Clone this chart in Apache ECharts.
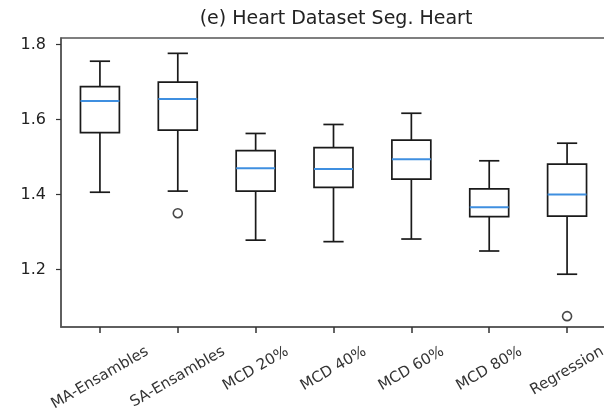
<!DOCTYPE html>
<html>
<head>
<meta charset="utf-8">
<script src="https://cdn.jsdelivr.net/npm/echarts@6/dist/echarts.min.js"></script>
<style>
  html, body { margin: 0; padding: 0; background: #fff; }
  #chart { width: 604px; height: 410px; }
</style>
</head>
<body>
<div id="chart"></div>
<script>
const categories = ['MA-Ensambles', 'SA-Ensambles', 'MCD 20%', 'MCD 40%', 'MCD 60%', 'MCD 80%', 'Regression'];
const whiskerLow = [1.406, 1.409, 1.278, 1.274, 1.281, 1.249, 1.187];
const q1 = [1.565, 1.572, 1.409, 1.419, 1.441, 1.341, 1.342];
const medians = [1.650, 1.655, 1.470, 1.468, 1.494, 1.366, 1.400];
const q3 = [1.688, 1.700, 1.517, 1.525, 1.545, 1.415, 1.481];
const whiskerHigh = [1.756, 1.777, 1.563, 1.587, 1.617, 1.490, 1.537];
const outliers = [[1, 1.350], [6, 1.075]];
const yTicks = [1.2, 1.4, 1.6, 1.8];

const FONT = '"DejaVu Sans", sans-serif';
const X_LABEL_SIZE = 15;
const LABEL_TOP = 17; // top of the rotated label box, px below the axis line

// matplotlib centres the rotated label box under its tick and hangs it from a
// fixed top. echarts spins each label round its anchor, so every label gets its
// own padding to land there (top-anchored text, 30 deg).
function measure(text, size) {
  const ctx = document.createElement('canvas').getContext('2d');
  ctx.font = `${size}px ${FONT}`;
  return ctx.measureText(text).width;
}

const h = X_LABEL_SIZE;
const widths = categories.map((name) => measure(name, X_LABEL_SIZE));
const labelMargin = LABEL_TOP + 0.25 * Math.min(...widths) - 0.144 * h;
const xAxisData = categories.map((name, i) => {
  const dy = (LABEL_TOP + 0.25 * widths[i] + 0.433 * h - labelMargin) / 1.1547;
  return {
    value: name,
    // a per-item textStyle hides axisLabel.align, so it is set here
    textStyle: {
      align: 'center',
      verticalAlign: 'top',
      padding: [Math.max(0, dy - h / 2), 1.1547 * dy, 0, 0]
    }
  };
});

const boxData = categories.map((_, i) => [i, whiskerLow[i], q1[i], medians[i], q3[i], whiskerHigh[i]]);

function renderBox(params, api) {
  const idx = api.value(0);
  const band = api.size([1, 0])[0];
  const half = band * 0.25;
  const cap = band * 0.13;
  const pLow = api.coord([idx, api.value(1)]);
  const pQ1 = api.coord([idx, api.value(2)]);
  const pMed = api.coord([idx, api.value(3)]);
  const pQ3 = api.coord([idx, api.value(4)]);
  const pHigh = api.coord([idx, api.value(5)]);
  const x = pMed[0];
  const dark = { stroke: '#1a1a1a', lineWidth: 1.7, fill: null };
  return {
    type: 'group',
    children: [
      { type: 'line', shape: { x1: x, y1: pQ3[1], x2: x, y2: pHigh[1] }, style: dark },
      { type: 'line', shape: { x1: x, y1: pQ1[1], x2: x, y2: pLow[1] }, style: dark },
      { type: 'line', shape: { x1: x - cap, y1: pHigh[1], x2: x + cap, y2: pHigh[1] }, style: dark },
      { type: 'line', shape: { x1: x - cap, y1: pLow[1], x2: x + cap, y2: pLow[1] }, style: dark },
      {
        type: 'rect',
        shape: { x: x - half, y: pQ3[1], width: half * 2, height: pQ1[1] - pQ3[1] },
        style: { stroke: '#1a1a1a', lineWidth: 1.7, fill: '#fff' }
      },
      {
        type: 'line',
        shape: { x1: x - half, y1: pMed[1], x2: x + half, y2: pMed[1] },
        style: { stroke: '#3f8fe0', lineWidth: 2 }
      }
    ]
  };
}

const chart = echarts.init(document.getElementById('chart'), null, { renderer: 'canvas' });

chart.setOption({
  animation: false,
  title: {
    text: '(e) Heart Dataset Seg. Heart',
    left: 336,
    top: 10,
    padding: 0,
    textAlign: 'center',
    textStyle: { fontFamily: FONT, fontSize: 19, fontWeight: 'normal', color: '#222' }
  },
  grid: {
    left: 61,
    top: 38,
    width: 545,
    bottom: 83,
    containLabel: false,
    outerBoundsMode: 'none',
    show: true,
    borderColor: '#555',
    borderWidth: 1.5,
    backgroundColor: 'transparent'
  },
  xAxis: {
    type: 'category',
    data: xAxisData,
    boundaryGap: true,
    axisLine: { show: true, lineStyle: { color: '#555', width: 1.5 } },
    axisTick: { show: true, alignWithLabel: true, length: 6, lineStyle: { color: '#333', width: 1.5 } },
    axisLabel: {
      interval: 0,
      rotate: 30,
      margin: labelMargin,
      fontFamily: FONT,
      fontSize: X_LABEL_SIZE,
      color: '#333'
    },
    splitLine: { show: false }
  },
  yAxis: {
    type: 'value',
    min: 1.046,
    max: 1.818,
    axisLine: { show: true, lineStyle: { color: '#555', width: 1.5 } },
    axisTick: { show: true, length: 5, customValues: yTicks, lineStyle: { color: '#333', width: 1.2 } },
    axisLabel: {
      customValues: yTicks,
      formatter: (value) => Number(value).toFixed(1),
      margin: 15,
      fontFamily: FONT,
      fontSize: 16,
      color: '#222'
    },
    splitLine: { show: false }
  },
  series: [
    {
      name: 'boxes',
      type: 'custom',
      renderItem: renderBox,
      data: boxData,
      encode: { x: 0, y: [1, 2, 3, 4, 5] }
    },
    {
      name: 'outliers',
      type: 'scatter',
      data: outliers,
      symbol: 'circle',
      symbolSize: 9,
      itemStyle: { color: '#fff', borderColor: '#1a1a1a', borderWidth: 1.6 }
    }
  ]
});
</script>
</body>
</html>
